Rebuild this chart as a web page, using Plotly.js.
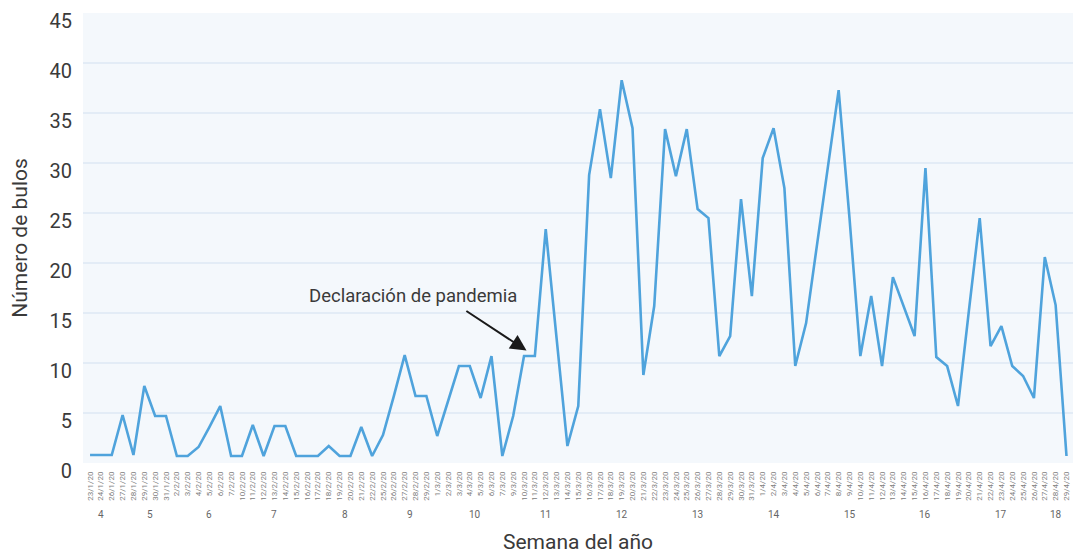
<!DOCTYPE html>
<html>
<head>
<meta charset="utf-8">
<script src="https://cdn.plot.ly/plotly-3.0.1.min.js"></script>
<style>
  body { margin: 0; background: #ffffff; }
  #chart { width: 1073px; height: 554px; }
</style>
</head>
<body>
<div id="chart"></div>
<script>
// dates (d/m/yy) as shown on the x axis
const fechas = [
    "23/1/20", "24/1/20", "26/1/20", "27/1/20", "28/1/20", "29/1/20", "30/1/20", "31/1/20",
    "2/2/20", "3/2/20", "4/2/20", "5/2/20", "6/2/20", "7/2/20", "10/2/20", "11/2/20",
    "12/2/20", "13/2/20", "14/2/20", "15/2/20", "16/2/20", "17/2/20", "18/2/20", "19/2/20",
    "20/2/20", "21/2/20", "22/2/20", "25/2/20", "26/2/20", "27/2/20", "28/2/20", "29/2/20",
    "1/3/20", "2/3/20", "3/3/20", "4/3/20", "5/3/20", "6/3/20", "7/3/20", "9/3/20",
    "10/3/20", "11/3/20", "12/3/20", "13/3/20", "14/3/20", "15/3/20", "16/3/20", "17/3/20",
    "18/3/20", "19/3/20", "20/3/20", "21/3/20", "22/3/20", "23/3/20", "24/3/20", "25/3/20",
    "26/3/20", "27/3/20", "28/3/20", "29/3/20", "30/3/20", "31/3/20", "1/4/20", "2/4/20",
    "3/4/20", "4/4/20", "5/4/20", "6/4/20", "7/4/20", "8/4/20", "9/4/20", "10/4/20",
    "11/4/20", "12/4/20", "13/4/20", "14/4/20", "15/4/20", "16/4/20", "17/4/20", "18/4/20",
    "19/4/20", "20/4/20", "21/4/20", "22/4/20", "23/4/20", "24/4/20", "25/4/20", "26/4/20",
    "27/4/20", "28/4/20", "29/4/20"
];

// número de bulos por día
const bulos = [
    0.8, 0.8, 0.8, 4.8, 0.8, 7.7, 4.7, 4.7,
    0.7, 0.7, 1.6, 3.6, 5.7, 0.7, 0.7, 3.8,
    0.7, 3.7, 3.7, 0.7, 0.7, 0.7, 1.7, 0.7,
    0.7, 3.6, 0.7, 2.8, 6.7, 10.8, 6.7, 6.7,
    2.7, 6.2, 9.7, 9.7, 6.5, 10.7, 0.7, 4.7,
    10.7, 10.7, 23.4, 12.5, 1.7, 5.7, 28.8, 35.4,
    28.5, 38.3, 33.5, 8.8, 15.7, 33.4, 28.7, 33.4,
    25.4, 24.5, 10.7, 12.7, 26.4, 16.7, 30.5, 33.5,
    27.5, 9.7, 14.0, 21.8, 29.3, 37.3, 24.5, 10.7,
    16.7, 9.7, 18.6, 15.7, 12.7, 29.5, 10.6, 9.7,
    5.7, 15.2, 24.5, 11.7, 13.7, 9.7, 8.7, 6.5,
    20.6, 15.8, 0.7
];

const evento = "Declaración de pandemia";
const fechaEvento = "11/3/20";

// ISO week number of a d/m/yy label
function isoWeek(label) {
    const p = label.split("/");
    const d = new Date(Date.UTC(2000 + Number(p[2]), Number(p[1]) - 1, Number(p[0])));
    const day = d.getUTCDay() || 7;
    d.setUTCDate(d.getUTCDate() + 4 - day);
    const yearStart = new Date(Date.UTC(d.getUTCFullYear(), 0, 1));
    return Math.ceil(((d - yearStart) / 86400000 + 1) / 7);
}

// group category positions by week, label each week at its middle
const semanas = {};
fechas.forEach(function (f, i) {
    const w = isoWeek(f);
    if (!semanas[w]) semanas[w] = [];
    semanas[w].push(i);
});

const font = "Roboto, Arial, sans-serif";

const annotations = [];
Object.keys(semanas).forEach(function (w) {
    const idx = semanas[w];
    const mid = (idx[0] + idx[idx.length - 1]) / 2;
    annotations.push({
        x: mid, xref: "x",
        y: -0.115, yref: "paper", yanchor: "middle",
        text: String(w),
        showarrow: false,
        font: {family: font, size: 10, color: "#666666"}
    });
});

const iEvento = fechas.indexOf(fechaEvento);
annotations.push({
    x: iEvento, y: bulos[iEvento], xref: "x", yref: "y",
    text: "",
    showarrow: true,
    ax: -70, ay: -46,
    arrowhead: 2, arrowsize: 1.6, arrowwidth: 2,
    standoff: 10,
    arrowcolor: "#1a1a1a"
});
annotations.push({
    x: iEvento, y: bulos[iEvento], xref: "x", yref: "y",
    text: evento,
    showarrow: false,
    xshift: -122, yshift: 60,
    font: {family: font, size: 18.5, color: "#3a3a3a"}
});

const data = [{
    x: fechas,
    y: bulos,
    type: "scatter",
    mode: "lines",
    line: {color: "#4fa3dc", width: 2.6},
    hoverinfo: "skip"
}];

const layout = {
    width: 1073,
    height: 554,
    margin: {l: 83, r: 0, t: 13, b: 91},
    paper_bgcolor: "#ffffff",
    plot_bgcolor: "#f4f8fc",
    showlegend: false,
    font: {family: font, color: "#3a3a3a"},
    xaxis: {
        type: "category",
        range: [-0.65, 90.6],
        dtick: 1,
        tickangle: -90,
        tickfont: {family: font, size: 8, color: "#808080"},
        ticks: "",
        ticklabelstandoff: 6,
        showgrid: false,
        zeroline: false,
        showline: false,
        title: {text: "Semana del año", font: {family: font, size: 21, color: "#3a3a3a"}, standoff: 40}
    },
    yaxis: {
        range: [0, 45.02],
        dtick: 5,
        tickfont: {family: font, size: 20, color: "#3a3a3a"},
        ticks: "",
        ticklabelstandoff: 10,
        ticklabelshift: 8,
        ticklabeloverflow: "allow",
        gridcolor: "#e3ecf6",
        gridwidth: 1.5,
        zeroline: false,
        showline: false,
        title: {text: "Número de bulos", font: {family: font, size: 21, color: "#3a3a3a"}, standoff: 16}
    },
    annotations: annotations
};

const config = {
    displayModeBar: false,
    staticPlot: true
};

Plotly.newPlot("chart", data, layout, config);
</script>
</body>
</html>
